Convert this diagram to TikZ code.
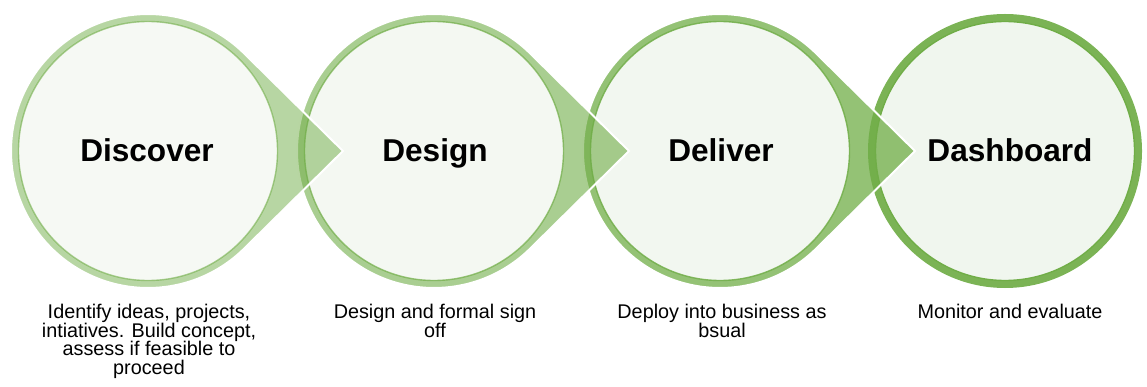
\documentclass[tikz,border=0pt]{standalone}
\usepackage{fontspec}
\setmainfont{Liberation Sans}
\definecolor{gbase}{HTML}{70AD47}
\definecolor{fillA}{HTML}{F6F9F4}
\definecolor{fillB}{HTML}{F4F8F2}
\definecolor{fillC}{HTML}{F2F7F0}
\definecolor{fillD}{HTML}{F0F6EE}
\tikzset{
  title/.style={anchor=base, inner sep=0pt, font=\fontsize{31.6}{36}\selectfont\bfseries},
  desc/.style={anchor=north, inner sep=0pt, align=center, font=\fontsize{19.8}{18.6}\selectfont},
  inner/.style={circle, inner sep=0pt, minimum size=259pt, line width=1.4pt},
}
\newcommand{\tear}[3]{% center x, opacity, tip offset
  \fill[gbase, fill opacity=#2, draw=white, line width=2pt]
    (#1+#3,151) -- ([shift={(#1,151)}]45.4:137) arc[start angle=45.4, end angle=314.6, radius=137] -- cycle;
}
\begin{document}
\begin{tikzpicture}[x=1pt,y=-1pt]
\useasboundingbox (0,0) rectangle (1147,387);
% drawn right to left so each arrow tip lies over the next circle
\fill[gbase, fill opacity=0.92] (1005,151) circle[radius=137];
\node[inner, fill=fillD, draw=gbase, draw opacity=1] (c4) at (1005,151) {};
\tear{720}{0.75}{195}
\node[inner, fill=fillC, draw=gbase, draw opacity=0.85] (c3) at (720,151) {};
\tear{434}{0.6}{195}
\node[inner, fill=fillB, draw=gbase, draw opacity=0.72] (c2) at (434,151) {};
\tear{148}{0.5}{195}
\node[inner, fill=fillA, draw=gbase, draw opacity=0.6] (c1) at (148,151) {};
% titles
\node[title] (t1) at (147,161.5) {Discover};
\node[title] (t2) at (435,161.5) {Design};
\node[title] (t3) at (721,161.5) {Deliver};
\node[title] (t4) at (1010,161.5) {Dashboard};
% descriptions
\node[desc] (d1) at (149,304) {Identify ideas, projects,\\intiatives. Build concept,\\assess if feasible to\\proceed};
\node[desc] (d2) at (435,304) {Design and formal sign\\off};
\node[desc] (d3) at (722,304) {Deploy into business as\\bsual};
\node[desc] (d4) at (1010,304) {Monitor and evaluate};
\end{tikzpicture}
\end{document}
